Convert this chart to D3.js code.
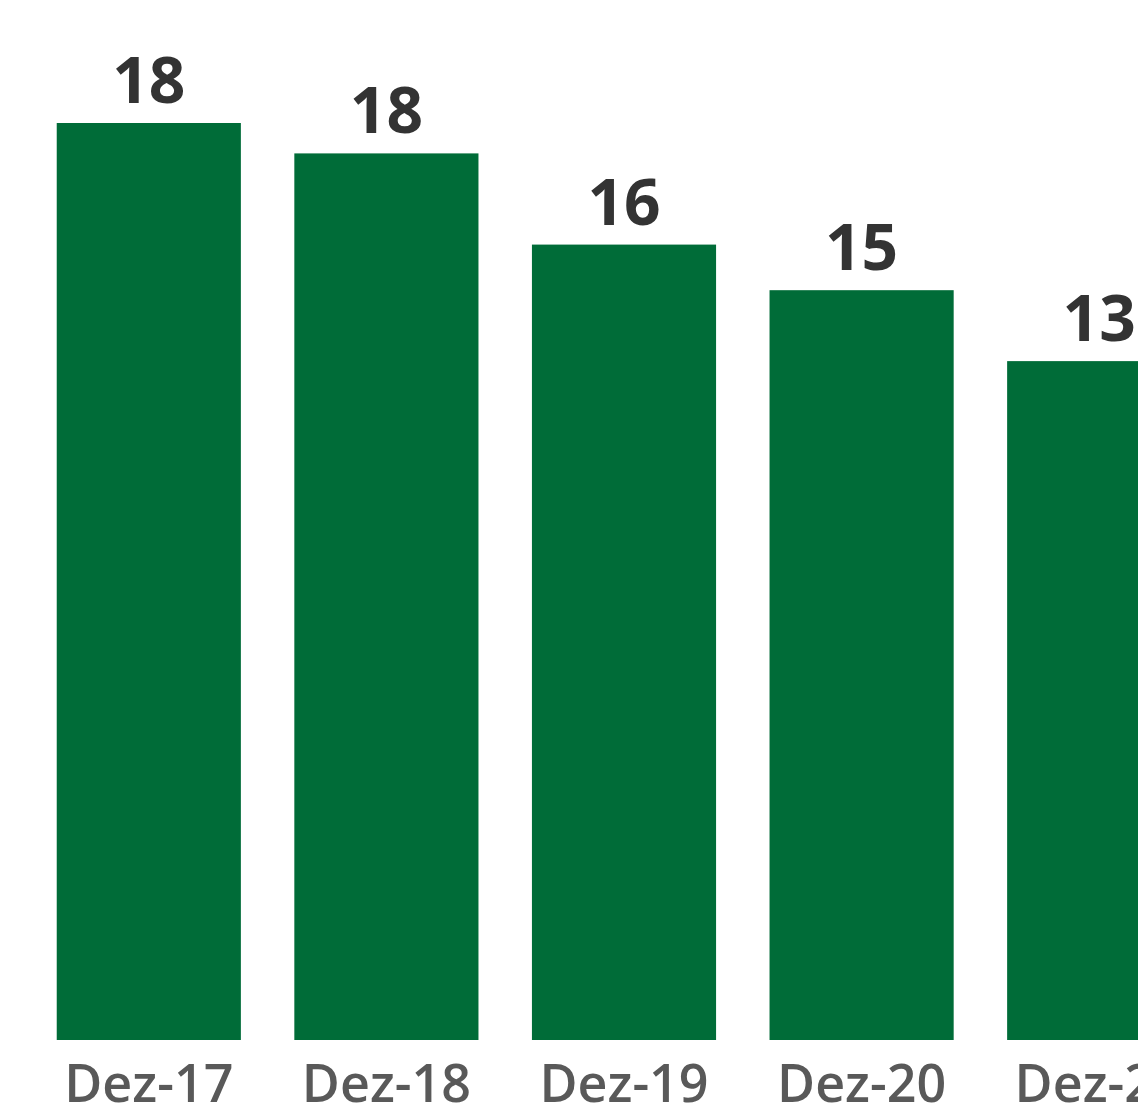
<!DOCTYPE html>
<head>
  <meta charset="utf-8">
  <script src="https://d3js.org/d3.v7.min.js"></script>
  <style>
    body { margin: 0; background: #fff; font-family: "Open Sans", "Noto Sans", sans-serif; }
    .bar { fill: #006c38; }
    .value { font-size: 64px; font-weight: 700; fill: #333333; }
    .cat { font-size: 52px; font-weight: 600; fill: #595959; }
  </style>
</head>
<body>
  <script>
    var categories = ["Dez-17", "Dez-18", "Dez-19", "Dez-20", "Dez-21"];
    var values = [18.1, 17.5, 15.7, 14.8, 13.4];

    var width = 1138, height = 1109;
    var baseline = 1040;

    var svg = d3.select("body").append("svg")
        .attr("width", width)
        .attr("height", height);

    var x = d3.scaleBand()
      .domain(categories)
      .range([30, 1218])
      .paddingInner(0.225)
      .paddingOuter(0.1125);

    var y = d3.scaleLinear()
      .domain([0, d3.max(values)])
      .range([baseline, 123]);

    var data = categories.map(function(c, i) { return {cat: c, value: values[i]}; });

    svg.selectAll(".bar")
      .data(data)
    .enter().append("rect")
      .attr("class", "bar")
      .attr("x", function(d) { return x(d.cat); })
      .attr("width", x.bandwidth())
      .attr("y", function(d) { return y(d.value); })
      .attr("height", function(d) { return baseline - y(d.value); });

    svg.selectAll(".value")
      .data(data)
    .enter().append("text")
      .attr("class", "value")
      .attr("text-anchor", "middle")
      .attr("x", function(d) { return x(d.cat) + x.bandwidth() / 2; })
      .attr("y", function(d) { return y(d.value) - 20; })
      .text(function(d) { return Math.round(d.value); });

    svg.selectAll(".cat")
      .data(data)
    .enter().append("text")
      .attr("class", "cat")
      .attr("text-anchor", "middle")
      .attr("x", function(d) { return x(d.cat) + x.bandwidth() / 2; })
      .attr("y", 1102)
      .text(function(d) { return d.cat; });
  </script>
</body>
